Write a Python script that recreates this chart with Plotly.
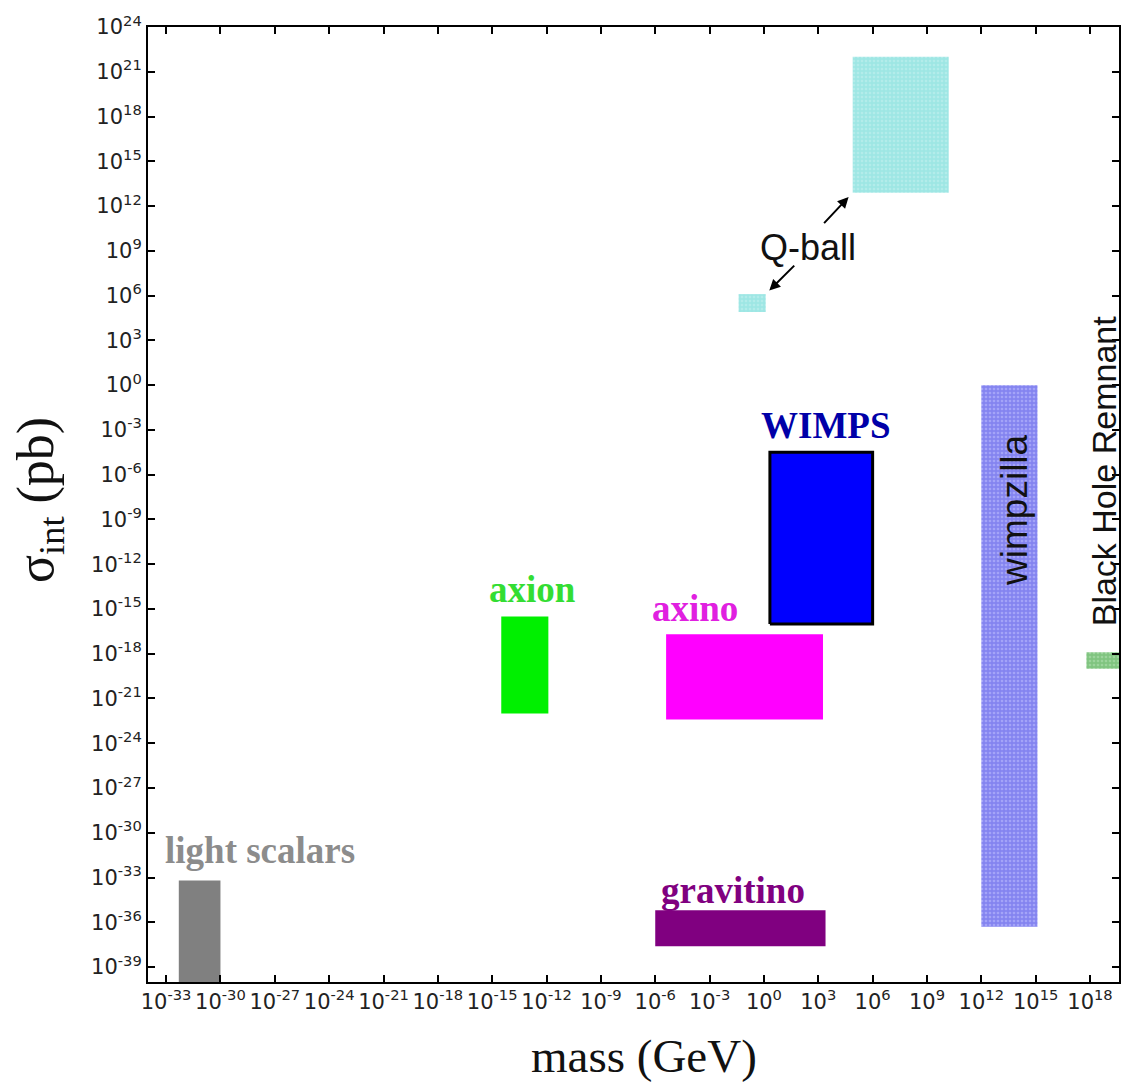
import plotly.graph_objects as go

# ---- data (log10 units) ----
names = ["light scalars", "axion", "axino", "WIMPS", "gravitino",
         "Q-ball (large)", "Q-ball (small)", "wimpzilla", "Black Hole Remnant"]
mass_lo = [-32.3, -14.5, -5.4, 0.33, -6.0, 4.9, -1.4, 12.0, 17.8]
mass_hi = [-30.0, -11.9, 3.26, 6.0, 3.4, 10.2, 0.1, 15.1, 21.0]
sig_lo = [-40.0, -22.0, -22.4, -16.0, -37.6, 12.9, 4.9, -36.3, -19.0]
sig_hi = [-33.2, -15.5, -16.7, -4.5, -35.2, 22.0, 6.1, 0.0, -17.9]

x_tick_exp = list(range(-33, 19, 3))
y_tick_exp = list(range(-39, 25, 3))

# ---- styles ----
fills = ["#808080", "#00f000", "#ff00ff", "#0000ff", "#800080",
         "#9ee6e4", "#9ee6e4", "#8484f0", "#80c480"]
pattern_fg = [None, None, None, None, None, "#c8f2f0", "#c8f2f0", "#c4c4ff", "#b8e4b8"]
border = [None, None, None, "black", None, None, None, None, None]

fig = go.Figure()
for i, n in enumerate(names):
    x0, x1 = 10.0 ** mass_lo[i], 10.0 ** mass_hi[i]
    y0, y1 = 10.0 ** sig_lo[i], 10.0 ** sig_hi[i]
    tr = dict(
        x=[x0, x1, x1, x0, x0], y=[y0, y0, y1, y1, y0],
        mode="lines", fill="toself", fillcolor=fills[i], name=n,
        line=dict(color=border[i] if border[i] else fills[i], width=3 if border[i] else 0),
        hoverinfo="skip", showlegend=False,
    )
    if pattern_fg[i]:
        tr["fillpattern"] = dict(shape=".", bgcolor=fills[i], fgcolor=pattern_fg[i],
                                 size=4, solidity=0.35)
    fig.add_trace(go.Scatter(**tr))

# ---- labels ----
serif_labels = [
    ("light scalars", -27.8, -31.2, "#8c8c8c"),
    ("axion", -12.76, -13.7, "#33dd33"),
    ("axino", -3.8, -15.0, "#e020e0"),
    ("WIMPS", 3.4, -2.7, "#0000a8"),
    ("gravitino", -1.7, -33.9, "#800080"),
]
for t, x, y, c in serif_labels:
    fig.add_annotation(x=x, y=y, xref="x", yref="y", text="<b>%s</b>" % t, showarrow=False,
                       font=dict(family="Liberation Serif", size=37, color=c))

sans_labels = [
    ("Q-ball", 2.43, 9.2, 0, 36),
    ("wimpzilla", 13.87, -8.35, -90, 37),
    ("Black Hole Remnant", 18.75, -5.8, -90, 34),
]
for t, x, y, a, s in sans_labels:
    fig.add_annotation(x=x, y=y, xref="x", yref="y", text=t, showarrow=False, textangle=a,
                       font=dict(family="Liberation Sans", size=s, color="#111111"))

# arrows from "Q-ball" to its two boxes
fig.add_annotation(x=mass_lo[5], y=sig_lo[5], xref="x", yref="y", text="", showarrow=True,
                   arrowhead=2, arrowsize=1.1, arrowwidth=2, arrowcolor="black",
                   ax=-30, ay=32, standoff=6)
fig.add_annotation(x=mass_hi[6], y=sig_hi[6], xref="x", yref="y", text="", showarrow=True,
                   arrowhead=2, arrowsize=1.1, arrowwidth=2, arrowcolor="black",
                   ax=30, ay=-30, standoff=5)

# axis titles
fig.add_annotation(x=0.511, y=-0.077, xref="paper", yref="paper", text="mass (GeV)",
                   showarrow=False, xanchor="center", yanchor="middle",
                   font=dict(family="Liberation Serif", size=47, color="#111111"))
fig.add_annotation(x=-0.111, y=0.505, xref="paper", yref="paper",
                   text="σ<sub>int</sub> (pb)", textangle=-90,
                   showarrow=False, xanchor="center", yanchor="middle",
                   font=dict(family="Liberation Serif", size=52, color="#111111"))

tick_font = dict(family="DejaVu Sans", size=21, color="#222222")
axis_common = dict(type="log", showgrid=False, zeroline=False, showline=True,
                   linecolor="black", linewidth=2, mirror="ticks", ticks="inside",
                   ticklen=7, tickwidth=1.5, tickcolor="black", tickfont=tick_font,
                   automargin=False)

fig.update_xaxes(range=[-34, 19.6],
                 tickvals=[10.0 ** e for e in x_tick_exp],
                 ticktext=["10<sup>%d</sup>" % e for e in x_tick_exp], **axis_common)
fig.update_yaxes(range=[-40, 24],
                 tickvals=[10.0 ** e for e in y_tick_exp],
                 ticktext=["10<sup>%d</sup>" % e for e in y_tick_exp], **axis_common)

fig.update_layout(width=1122, height=1082, plot_bgcolor="white", paper_bgcolor="white",
                  margin=dict(l=148, r=3, t=27, b=100, autoexpand=False), showlegend=False)

fig.write_html("out.html", config={"displayModeBar": False},
               post_script="document.body.style.margin='0px';document.body.style.overflow='hidden';")
